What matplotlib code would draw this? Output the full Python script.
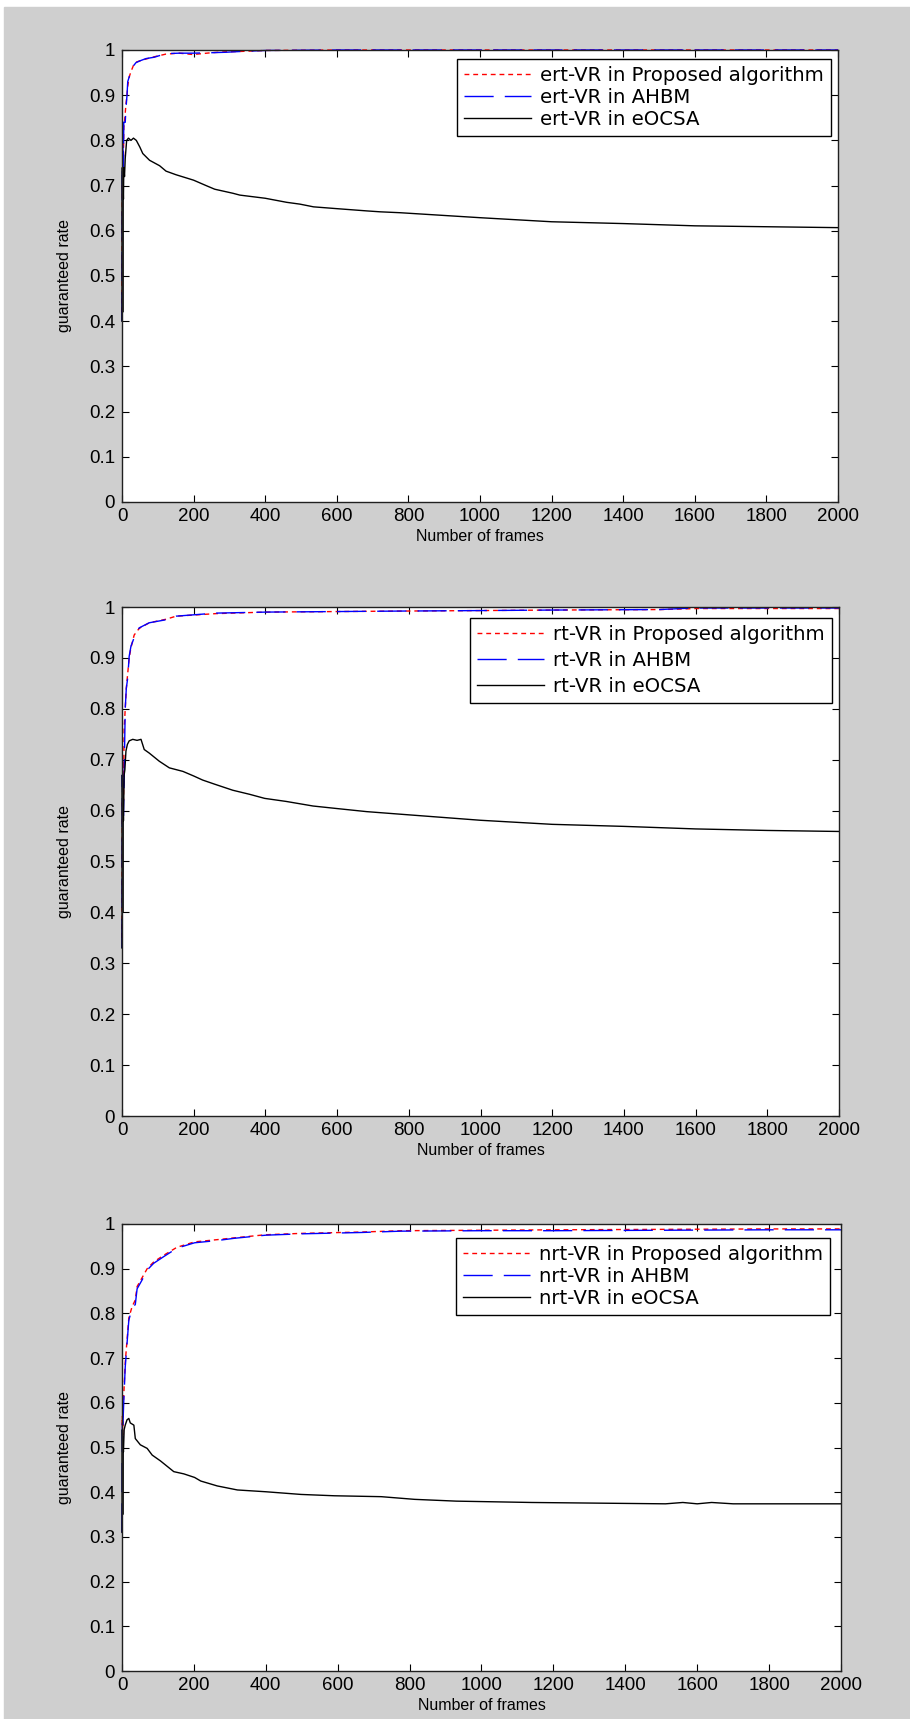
#!/usr/bin/env python3
"""
Guaranteed rate vs number of frames for ert-VR, rt-VR and nrt-VR
"""
import matplotlib
matplotlib.use("Agg")
import matplotlib.pyplot as plt
from matplotlib import font_manager
from matplotlib.patches import Rectangle

plt.rcParams['font.family'] = ['Liberation Sans', 'DejaVu Sans']

# ---- data ----
# panel 1: ert-VR
ert_frames_fast = [0, 1, 2, 3, 4, 5, 7, 9, 11, 14, 16, 20, 25, 32, 39, 50, 67,
                   90, 123, 160, 198, 250, 290, 337, 403, 600, 1000, 2000]
ert_proposed = [0.42, 0.70, 0.68, 0.80, 0.76, 0.83, 0.84, 0.86, 0.88, 0.90,
                0.92, 0.94, 0.952, 0.966, 0.973, 0.976, 0.980, 0.985, 0.991,
                0.993, 0.99, 0.994, 0.996, 0.997, 0.999, 1.0, 1.0, 1.0]
ert_ahbm = [0.40, 0.74, 0.68, 0.84, 0.74, 0.84, 0.84, 0.84, 0.87, 0.90, 0.93,
            0.94, 0.952, 0.965, 0.972, 0.976, 0.981, 0.984, 0.992, 0.993,
            0.993, 0.994, 0.995, 0.997, 0.999, 1.0, 1.0, 1.0]
ert_frames_eocsa = [0, 1, 2, 3, 4, 5, 7, 9, 13, 18, 25, 32, 40, 50, 58, 77,
                    105, 123, 151, 200, 235, 259, 310, 329, 400, 460, 497, 535,
                    600, 684, 721, 777, 1000, 1200, 1400, 1600, 1800, 2000]
ert_eocsa = [0.40, 0.74, 0.42, 0.70, 0.67, 0.74, 0.72, 0.76, 0.80, 0.805,
             0.80, 0.805, 0.80, 0.785, 0.771, 0.756, 0.744, 0.732, 0.724,
             0.712, 0.70, 0.692, 0.683, 0.679, 0.672, 0.663, 0.659, 0.653,
             0.649, 0.644, 0.642, 0.640, 0.629, 0.620, 0.616, 0.611, 0.609,
             0.607]

# panel 2: rt-VR
rt_frames_fast = [0, 1, 2, 3, 4, 6, 9, 12, 16, 20, 25, 34, 48, 76, 123, 151,
                  262, 402, 775, 1000, 1200, 1500, 1560, 1600, 2000]
rt_proposed = [0.35, 0.62, 0.60, 0.70, 0.62, 0.76, 0.80, 0.84, 0.87, 0.90,
               0.92, 0.945, 0.958, 0.969, 0.976, 0.982, 0.987, 0.99, 0.992,
               0.993, 0.994, 0.995, 0.996, 0.997, 0.997]
rt_ahbm = [0.33, 0.67, 0.58, 0.62, 0.59, 0.67, 0.80, 0.84, 0.861, 0.903,
           0.923, 0.94, 0.959, 0.969, 0.975, 0.982, 0.988, 0.99, 0.992, 0.993,
           0.994, 0.995, 0.997, 0.998, 0.998]
rt_frames_eocsa = [0, 1, 2, 3, 4, 6, 8, 11, 15, 20, 30, 42, 53, 62, 76, 104,
                   132, 170, 200, 225, 258, 309, 356, 398, 458, 533, 600, 682,
                   775, 1000, 1200, 1400, 1600, 1800, 2000]
rt_eocsa = [0.33, 0.67, 0.40, 0.62, 0.58, 0.67, 0.68, 0.717, 0.73, 0.737,
            0.74, 0.738, 0.74, 0.72, 0.713, 0.697, 0.684, 0.677, 0.668, 0.66,
            0.652, 0.64, 0.632, 0.624, 0.618, 0.609, 0.604, 0.598, 0.593,
            0.581, 0.573, 0.569, 0.564, 0.561, 0.559]

# panel 3: nrt-VR
nrt_frames_fast = [0, 1, 2, 3, 5, 9, 14, 19, 28, 37, 42, 56, 70, 88, 116, 153,
                   202, 265, 312, 400, 498, 665, 777, 1000, 1200, 1500, 1800,
                   2000]
nrt_proposed = [0.55, 0.57, 0.52, 0.58, 0.62, 0.69, 0.74, 0.79, 0.815, 0.83,
                0.86, 0.88, 0.90, 0.915, 0.93, 0.948, 0.96, 0.965, 0.969,
                0.976, 0.979, 0.982, 0.985, 0.986, 0.987, 0.988, 0.989, 0.989]
nrt_ahbm = [0.31, 0.56, 0.50, 0.56, 0.606, 0.68, 0.733, 0.785, 0.811, 0.82,
            0.855, 0.875, 0.897, 0.912, 0.927, 0.946, 0.958, 0.963, 0.968,
            0.975, 0.978, 0.981, 0.984, 0.985, 0.985, 0.986, 0.987, 0.987]
nrt_frames_eocsa = [0, 1, 2, 3, 4, 6, 9, 14, 19, 23, 33, 37, 51, 70, 84, 107,
                    144, 172, 202, 219, 265, 321, 400, 498, 591, 721, 814, 930,
                    1140, 1512, 1560, 1600, 1640, 1700, 2000]
nrt_eocsa = [0.31, 0.54, 0.35, 0.50, 0.49, 0.54, 0.55, 0.562, 0.565, 0.555,
             0.55, 0.52, 0.506, 0.498, 0.483, 0.47, 0.446, 0.441, 0.433,
             0.425, 0.414, 0.405, 0.401, 0.395, 0.392, 0.39, 0.384, 0.38,
             0.377, 0.374, 0.377, 0.374, 0.377, 0.374, 0.374]

x_ticks = [0, 200, 400, 600, 800, 1000, 1200, 1400, 1600, 1800, 2000]
y_ticks = [0, 0.1, 0.2, 0.3, 0.4, 0.5, 0.6, 0.7, 0.8, 0.9, 1]
y_tick_labels = ['0', '0.1', '0.2', '0.3', '0.4', '0.5', '0.6', '0.7', '0.8',
                 '0.9', '1']

# axis labels are condensed in the original; use the narrow face if present
try:
    font_manager.findfont('Liberation Sans Narrow', fallback_to_default=False)
    label_family, xlabel_size, ylabel_size = 'Liberation Sans Narrow', 14, 13
except ValueError:
    label_family, xlabel_size, ylabel_size = 'Liberation Sans', 11.5, 11.5

W, H = 910, 1719
fig = plt.figure(figsize=(W / 100, H / 100), dpi=100, facecolor='white')
fig.patches.append(Rectangle((4 / W, 0), 1, (H - 7) / H,
                             transform=fig.transFigure, color='#cfcfcf',
                             zorder=-10))

# axes boxes in pixels: left, top, right, bottom
boxes = [(122, 50, 838, 502), (122, 607, 839, 1116), (122, 1224, 841, 1671)]
legend_anchor = [(0.990, 0.980), (0.990, 0.978), (0.985, 0.968)]
legend_spacing = [0.15, 0.35, 0.15]

panels = [
    ('ert-VR', ert_frames_fast, ert_proposed, ert_ahbm,
     ert_frames_eocsa, ert_eocsa),
    ('rt-VR', rt_frames_fast, rt_proposed, rt_ahbm,
     rt_frames_eocsa, rt_eocsa),
    ('nrt-VR', nrt_frames_fast, nrt_proposed, nrt_ahbm,
     nrt_frames_eocsa, nrt_eocsa),
]

for (name, fx, prop, ahbm, ex, eocsa), box, anchor, spacing in zip(
        panels, boxes, legend_anchor, legend_spacing):
    l, t, r, b = box
    ax = fig.add_axes([l / W, (H - b) / H, (r - l) / W, (b - t) / H])
    ax.set_facecolor('white')

    ax.plot(fx, prop, color='#ff0000', lw=1.0, dashes=(3.5, 2.8),
            clip_on=False, label=f'{name} in Proposed algorithm')
    ax.plot(fx, ahbm, color='#0000ff', lw=1.0, dashes=(21, 8),
            clip_on=False, label=f'{name} in AHBM')
    ax.plot(ex, eocsa, color='black', lw=1.0, clip_on=False,
            label=f'{name} in eOCSA')

    ax.set_xlim(0, 2000)
    ax.set_ylim(0, 1)
    ax.set_xticks(x_ticks)
    ax.set_yticks(y_ticks)
    ax.set_yticklabels(y_tick_labels)
    ax.tick_params(direction='in', top=True, right=True, length=5, width=0.8,
                   labelsize=13.5, colors='black')
    ax.tick_params(axis='x', pad=4)
    ax.tick_params(axis='y', pad=5)
    for sp in ax.spines.values():
        sp.set_linewidth(1.0)
        sp.set_color('#202020')

    ax.set_xlabel('Number of frames', fontsize=xlabel_size,
                  family=label_family)
    ax.xaxis.set_label_coords(0.5, -27 / (b - t))
    ax.set_ylabel('guaranteed rate', fontsize=ylabel_size,
                  family=label_family)
    ax.yaxis.set_label_coords(-50 / (r - l), 0.5)

    leg = ax.legend(loc='upper right', bbox_to_anchor=anchor,
                    borderaxespad=0, fancybox=False, framealpha=1,
                    edgecolor='black', handlelength=3.4, handletextpad=0.45,
                    labelspacing=spacing, borderpad=0.35,
                    prop={'family': 'DejaVu Sans', 'size': 14.2})
    leg.get_frame().set_linewidth(1.0)

fig.savefig('out.png', dpi=100, facecolor=fig.get_facecolor())
